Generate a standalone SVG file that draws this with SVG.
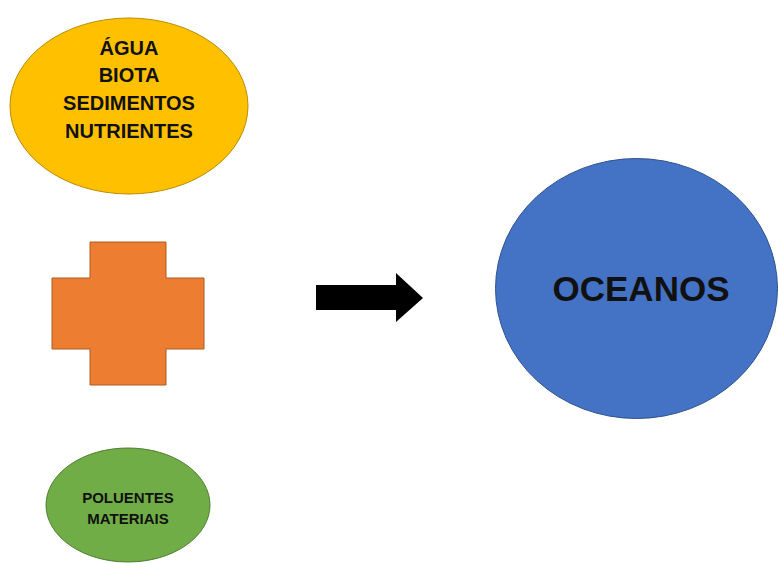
<svg xmlns="http://www.w3.org/2000/svg" width="778" height="563" viewBox="0 0 778 563">
<style>
  .lbl { font-family: "Liberation Sans", Arial, sans-serif; font-weight: bold; fill: #111111; text-anchor: middle; }
  .ln { stroke-width: 1; }
</style>
<rect x="0" y="0" width="778" height="563" fill="#ffffff"/>
<g id="node-inputs">
  <ellipse cx="129" cy="106" rx="119" ry="88" fill="#FFC000" stroke="#BC8C00" class="ln"/>
  <text class="lbl" font-size="20" x="129" y="55">ÁGUA</text>
  <text class="lbl" font-size="20" x="129" y="82">BIOTA</text>
  <text class="lbl" font-size="20" x="129" y="110">SEDIMENTOS</text>
  <text class="lbl" font-size="20" x="129" y="138">NUTRIENTES</text>
</g>
<g id="node-plus">
  <path d="M90,242 H166 V278 H204 V349 H166 V385 H90 V349 H52 V278 H90 Z" fill="#ED7D31" stroke="#AE5A21" class="ln"/>
</g>
<g id="node-pollutants">
  <ellipse cx="128" cy="505" rx="82" ry="57" fill="#70AD47" stroke="#507E32" class="ln"/>
  <text class="lbl" font-size="15" x="128" y="503">POLUENTES</text>
  <text class="lbl" font-size="15" x="128" y="524">MATERIAIS</text>
</g>
<g id="node-oceans">
  <ellipse cx="636.5" cy="288.5" rx="141" ry="130" fill="#4472C4" stroke="#2F528F" class="ln"/>
  <text class="lbl" font-size="35" x="641" y="301">OCEANOS</text>
</g>
<g id="connectors">
  <path d="M316,285 H396 V273 L423,298 L396,322 V310 H316 Z" fill="#000000"/>
</g>
</svg>
